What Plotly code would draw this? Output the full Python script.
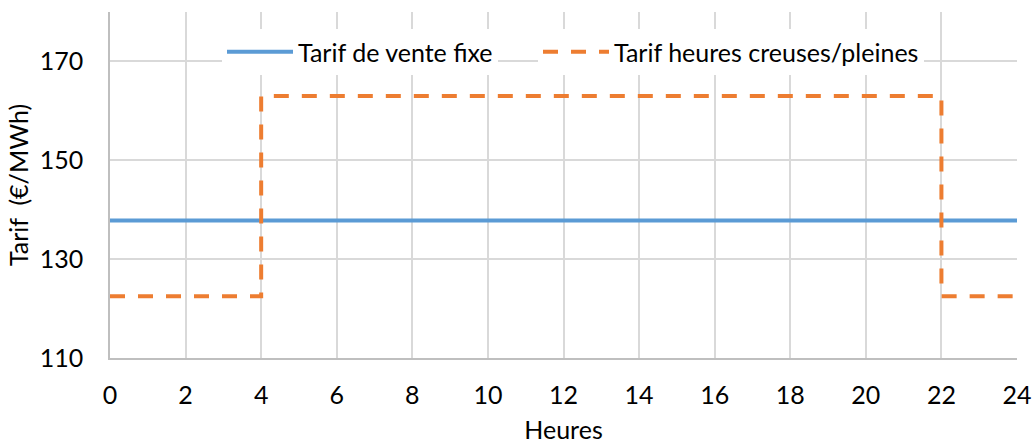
import plotly.graph_objects as go

# Data
hours_fixed = [0, 24]
tarif_fixe = [137.8, 137.8]

hours_hc = [0, 4, 22, 24]
tarif_hc = [122.5, 163.0, 122.5, 122.5]

x_ticks = list(range(0, 25, 2))
y_ticks = [110, 130, 150, 170]

FONT = "Lato"
FS = 25

fig = go.Figure()
fig.add_trace(go.Scatter(
    x=hours_fixed, y=tarif_fixe, mode="lines",
    name="Tarif de vente fixe", legend="legend",
    line=dict(color="#5B9BD5", width=4),
))
fig.add_trace(go.Scatter(
    x=hours_hc, y=tarif_hc, mode="lines", line_shape="hv",
    name="Tarif heures creuses/pleines", legend="legend2",
    line=dict(color="#ED7D31", width=4, dash="15px,13px"),
))

legend_common = dict(
    orientation="h", xanchor="left",
    y=(358 - 52) / 346, yanchor="middle",
    bgcolor="rgba(255,255,255,1)", font=dict(size=FS, family=FONT),
    itemwidth=66,
)

fig.update_layout(
    width=1035, height=444,
    margin=dict(l=110, r=18, t=12, b=86),
    paper_bgcolor="white", plot_bgcolor="white",
    font=dict(family=FONT, size=FS, color="#000000"),
    showlegend=True,
    legend=dict(x=(222 - 110) / 907, **legend_common),
    legend2=dict(x=(538 - 110) / 907, **legend_common),
    xaxis=dict(
        range=[0, 24], tickvals=x_ticks, ticktext=[str(v) for v in x_ticks],
        showgrid=True, gridcolor="#D9D9D9", gridwidth=1.5,
        showline=True, linecolor="#BFBFBF", linewidth=1.5,
        zeroline=False, ticks="", ticklabelstandoff=14, automargin=False,
        title=dict(text="Heures", standoff=15, font=dict(size=FS)),
        tickfont=dict(size=FS),
    ),
    yaxis=dict(
        range=[110, 180], tickvals=y_ticks, ticktext=[str(v) for v in y_ticks],
        showgrid=True, gridcolor="#D9D9D9", gridwidth=1.5,
        showline=True, linecolor="#BFBFBF", linewidth=1.5,
        zeroline=False, ticks="", ticklabelstandoff=20, automargin=False,
        title=dict(text="Tarif  (€/MWh)", standoff=4, font=dict(size=FS)),
        tickfont=dict(size=FS),
    ),
)

fig.write_html("out.html", config={"displayModeBar": False},
               post_script="document.body.style.margin='0';")
